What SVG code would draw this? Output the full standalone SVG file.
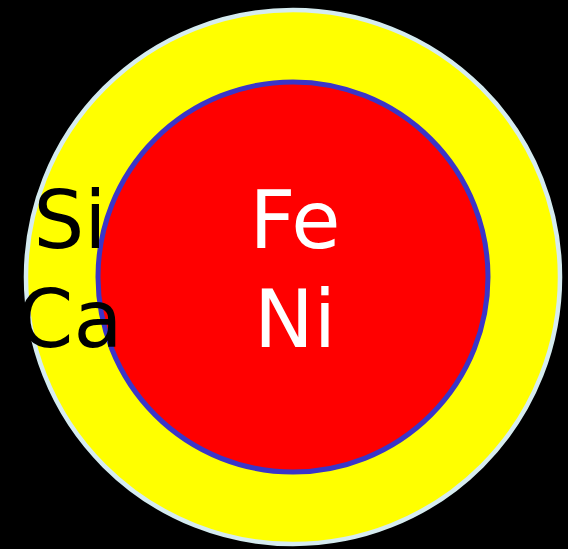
<svg xmlns="http://www.w3.org/2000/svg" width="568" height="549" viewBox="0 0 568 549">
<style>
.lbl{font-family:"DejaVu Sans",sans-serif;font-size:80px;text-anchor:middle}
</style>
<rect width="568" height="549" fill="#000"/>
<g id="mantle">
<circle cx="293" cy="277" r="267" fill="#ffff00" stroke="#d6ecf0" stroke-width="4.5"/>
</g>
<g id="core">
<circle cx="293" cy="277" r="195" fill="#ff0000" stroke="#3a35c8" stroke-width="5"/>
<text class="lbl" x="295" y="248" fill="#fff">Fe</text>
<text class="lbl" x="295" y="347" fill="#fff">Ni</text>
</g>
<g id="mantle-labels">
<text class="lbl" x="70" y="248" fill="#000">Si</text>
<text class="lbl" x="70" y="347" fill="#000">Ca</text>
</g>
<g id="connectors"/>
</svg>
